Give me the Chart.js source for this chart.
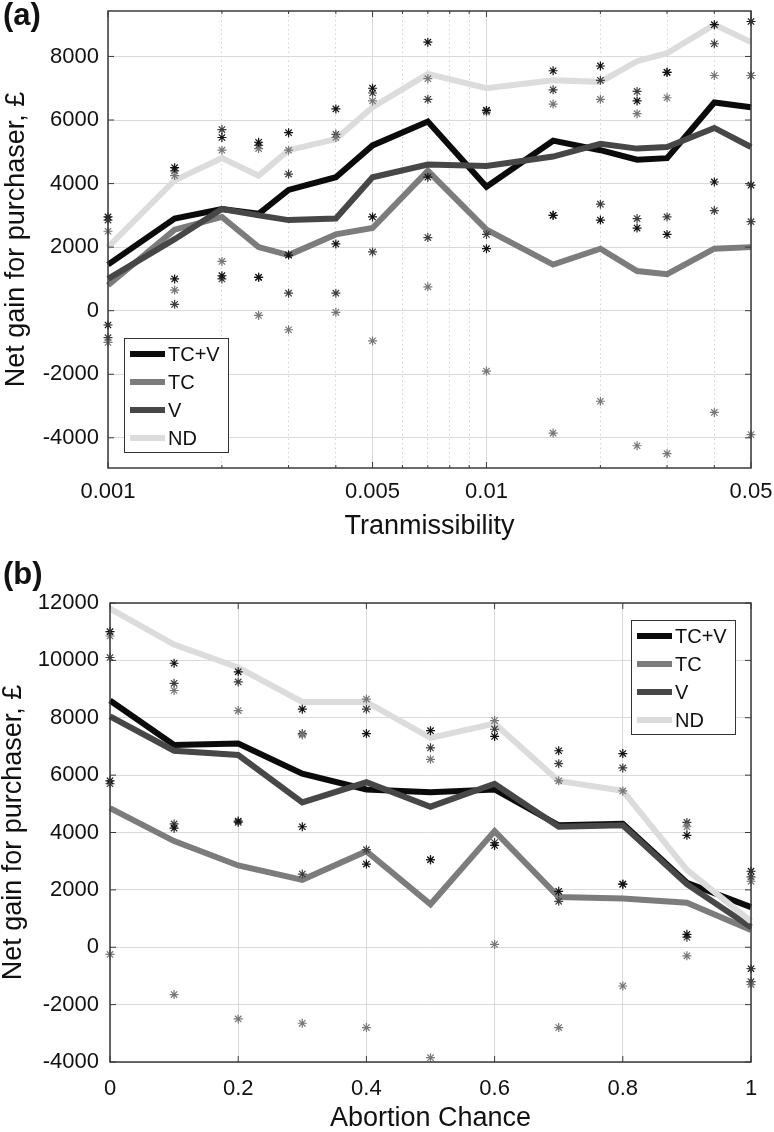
<!DOCTYPE html>
<html lang="en">
<head>
<meta charset="UTF-8">
<title>Net gain for purchaser</title>
<script src="https://cdn.jsdelivr.net/npm/chart.js"></script>
<style>
  body { margin: 0; background: #fff; font-family: "Liberation Sans", Arial, sans-serif; }
  .panel { position: relative; width: 774px; }
  .panel canvas { display: block; }
  .tag { position: absolute; left: 3px; font-weight: bold; font-size: 31px; line-height: 1; color: #111; }
</style>
</head>
<body>
<div class="panel" style="height:560px">
  <canvas id="chartA" width="774" height="560"></canvas>
  <div class="tag" style="top:-1px">(a)</div>
</div>
<div class="panel" style="height:572px">
  <canvas id="chartB" width="774" height="572"></canvas>
  <div class="tag" style="top:-2px">(b)</div>
</div>

<script>
/* ---------- panel (a): transmissibility (log axis) ---------- */
const transX = [0.001, 0.0015, 0.002, 0.0025, 0.003, 0.004, 0.005, 0.007, 0.01, 0.015, 0.02, 0.025, 0.03, 0.04, 0.05];
const aTCV = [1450, 2900, 3200, 3050, 3800, 4200, 5200, 5950, 3900, 5350, 5050, 4750, 4800, 6550, 6400];
const aTC  = [800, 2550, 2950, 2000, 1750, 2400, 2600, 4400, 2550, 1450, 1950, 1250, 1150, 1950, 2000];
const aV   = [1000, 2250, 3200, 3000, 2850, 2900, 4200, 4600, 4550, 4850, 5250, 5100, 5150, 5750, 5150];
const aND  = [2000, 4100, 4800, 4250, 5050, 5400, 6400, 7450, 7000, 7250, 7200, 7850, 8100, 9000, 8450];
// asterisks: upper / lower run for each treatment
const aTCVhi = [2950, 4500, 5450, 5300, 5600, 6350, 7000, 8450, 6300, 7550, 7700, 6600, 7500, 9000, 9100];
const aTCVlo = [-450, 1000, 1100, 1050, 1750, 2100, 2950, 4200, 1950, 3000, 2850, 2600, 2400, 4050, 3950];
const aTChi  = [2500, 4250, 5050, 5100, 5050, 5450, 6600, 7300, 6250, 6500, 6650, 6200, 6700, 7400, 7400];
const aTClo  = [-1000, 650, 1550, -150, -600, -50, -950, 750, -1900, -3850, -2850, -4250, -4500, -3200, -3900];
const aVhi   = [2850, 4400, 5700, 5200, 4300, 5550, 6850, 6650, 6300, 6950, 7250, 6900, 7500, 8400, 7400];
const aVlo   = [-850, 200, 1000, 1050, 550, 550, 1850, 2300, 2400, 3000, 3350, 2900, 2950, 3150, 2800];

const xMajorA = [0.001, 0.005, 0.01, 0.05];
const xMinorA = [0.002, 0.003, 0.004, 0.006, 0.007, 0.008, 0.009, 0.02, 0.03, 0.04];
const yTicksA = [-4000, -2000, 0, 2000, 4000, 6000, 8000];

/* ---------- panel (b): abortion chance ---------- */
const abortX = [0, 0.1, 0.2, 0.3, 0.4, 0.5, 0.6, 0.7, 0.8, 0.9, 1];
const bTCV = [8600, 7050, 7100, 6050, 5500, 5400, 5500, 4250, 4300, 2250, 1400];
const bTC  = [4850, 3700, 2850, 2350, 3350, 1500, 4050, 1750, 1700, 1550, 600];
const bV   = [8050, 6850, 6700, 5050, 5750, 4900, 5700, 4200, 4250, 2200, 700];
const bND  = [11800, 10550, 9750, 8550, 8550, 7300, 7800, 5800, 5450, 2700, 900];
const bTCVhi = [11000, 9900, 9600, 8300, 7450, 7550, 7350, 6850, 6750, 3900, 2650];
const bTCVlo = [5800, 4150, 4400, 4200, 2900, 3050, 3550, 1950, 2200, 450, -750];
const bTChi  = [10850, 8950, 8250, 7400, 8650, 6550, 7900, 5800, 5450, 4200, 2300];
const bTClo  = [-250, -1650, -2500, -2650, -2800, -3850, 100, -2800, -1350, -300, -1300];
const bVhi   = [10100, 9200, 9250, 7450, 8300, 6950, 7600, 6400, 6250, 4350, 2450];
const bVlo   = [5700, 4300, 4350, 2550, 3400, 3050, 3650, 1600, 2200, 350, -1200];

const xTicksB = [0, 0.2, 0.4, 0.6, 0.8, 1];
const yTicksB = [-4000, -2000, 0, 2000, 4000, 6000, 8000, 10000, 12000];

/* ---------- styling ---------- */
Chart.defaults.font.family = "'Liberation Sans', Arial, sans-serif";
const lineColor = { 'TC+V': '#0b0b0b', 'TC': '#7c7c7c', 'V': '#474747', 'ND': '#dcdcdc' };
const starColor = { 'TC+V': '#121212', 'TC': '#777777', 'V': '#3d3d3d' };
const drawOrder = { 'TC+V': 4, 'TC': 3, 'V': 2, 'ND': 1 }; // later series on top, like matlab
const tickFont = { size: 22 };
const titleFont = { size: 27, lineHeight: 1 };
const plainNum = v => String(v); // no thousands separators

function pts(xs, ys) { return xs.map((x, i) => ({ x: x, y: ys[i] })); }

function buildDatasets(xs, lines, stars) {
  const sets = [];
  stars.forEach(s => {
    [s.hi, s.lo].forEach(arr => sets.push({
      label: s.name, data: pts(xs, arr), showLine: false,
      pointStyle: 'star', pointRadius: 4.5, pointBorderWidth: 1.2,
      pointBorderColor: starColor[s.name], pointBackgroundColor: starColor[s.name],
      borderColor: starColor[s.name], order: 0, clip: false
    }));
  });
  lines.forEach(l => sets.push({
    label: l.name, data: pts(xs, l.y), inLegend: true,
    borderColor: lineColor[l.name], backgroundColor: lineColor[l.name],
    borderWidth: 6, pointRadius: 0, tension: 0,
    order: drawOrder[l.name], clip: false
  }));
  return sets;
}

function zeroPad(s) { s.paddingLeft = 0; s.paddingRight = 0; s.paddingTop = 0; s.paddingBottom = 0; }
function fixedTicks(list, majors) {
  return s => { s.ticks = list.map(v => ({ value: v, major: majors ? majors.includes(v) : true })); };
}

// matlab style box with inward ticks on all four sides
const matFrame = {
  id: 'matFrame',
  afterDatasetsDraw(chart) {
    const ctx = chart.ctx, a = chart.chartArea;
    const xs = chart.scales.x, ys = chart.scales.y;
    ctx.save();
    ctx.strokeStyle = '#3a3a3a';
    ctx.lineWidth = 1.5;
    ctx.strokeRect(a.left, a.top, a.right - a.left, a.bottom - a.top);
    ctx.lineWidth = 1;
    ctx.beginPath();
    xs.ticks.forEach(t => {
      const px = xs.getPixelForValue(t.value);
      const len = t.major ? 6 : 3;
      ctx.moveTo(px, a.bottom); ctx.lineTo(px, a.bottom - len);
      ctx.moveTo(px, a.top); ctx.lineTo(px, a.top + len);
    });
    ys.ticks.forEach(t => {
      const py = ys.getPixelForValue(t.value);
      ctx.moveTo(a.left, py); ctx.lineTo(a.left + 6, py);
      ctx.moveTo(a.right, py); ctx.lineTo(a.right - 6, py);
    });
    ctx.stroke();
    ctx.restore();
  }
};

// legend box inside the axes
const boxLegend = {
  id: 'boxLegend',
  afterDraw(chart, args, opts) {
    const ctx = chart.ctx, a = chart.chartArea;
    const w = 104, h = 114;
    const left = opts.corner === 'bl' ? a.left + 16 : a.right - 16 - w;
    const top = opts.corner === 'bl' ? a.bottom - 16 - h : a.top + 17;
    ctx.save();
    ctx.fillStyle = '#fff';
    ctx.fillRect(left, top, w, h);
    ctx.strokeStyle = '#333';
    ctx.lineWidth = 1;
    ctx.strokeRect(left + 0.5, top + 0.5, w, h);
    chart.data.datasets.filter(d => d.inLegend).forEach((d, i) => {
      const y = top + 16 + i * 28;
      ctx.strokeStyle = d.borderColor;
      ctx.lineWidth = 6;
      ctx.beginPath();
      ctx.moveTo(left + 6, y);
      ctx.lineTo(left + 41, y);
      ctx.stroke();
      ctx.fillStyle = '#111';
      ctx.font = "20px 'Liberation Sans', Arial, sans-serif";
      ctx.textBaseline = 'middle';
      ctx.fillText(d.label, left + 44, y + 1);
    });
    ctx.restore();
  }
};

function gridColor(c) { return (c.tick && !c.tick.major) ? '#d2d2d2' : '#dadada'; }
function gridDash(c) { return (c.tick && !c.tick.major) ? [1.5, 3] : []; }

/* ---------- chart (a) ---------- */
new Chart(document.getElementById('chartA'), {
  type: 'line',
  data: {
    datasets: buildDatasets(transX,
      [{ name: 'TC+V', y: aTCV }, { name: 'TC', y: aTC }, { name: 'V', y: aV }, { name: 'ND', y: aND }],
      [{ name: 'TC+V', hi: aTCVhi, lo: aTCVlo }, { name: 'TC', hi: aTChi, lo: aTClo }, { name: 'V', hi: aVhi, lo: aVlo }])
  },
  options: {
    responsive: false, animation: false, events: [],
    layout: { padding: { left: 0, top: 11, right: 23, bottom: 0 } },
    plugins: { legend: { display: false }, tooltip: { enabled: false }, boxLegend: { corner: 'bl' } },
    scales: {
      x: {
        type: 'logarithmic', min: 0.001, max: 0.05,
        afterBuildTicks: fixedTicks(xMajorA.concat(xMinorA).sort((p, q) => p - q), xMajorA),
        afterFit: s => { s.height = 92; zeroPad(s); },
        ticks: { autoSkip: false, maxRotation: 0, padding: 11, color: '#111', font: tickFont,
                 callback: v => xMajorA.includes(v) ? String(v) : '' },
        grid: { drawTicks: false, color: gridColor, lineWidth: 1 },
        border: { display: false, dash: gridDash },
        title: { display: true, text: 'Tranmissibility', color: '#111', font: titleFont, padding: { top: 0, bottom: 20 } }
      },
      y: {
        type: 'linear', min: -4950, max: 9430,
        afterBuildTicks: fixedTicks(yTicksA),
        afterFit: s => { s.width = 108; zeroPad(s); },
        ticks: { padding: 9, color: '#111', font: tickFont, callback: plainNum },
        grid: { drawTicks: false, color: '#dadada', lineWidth: 1 },
        border: { display: false },
        title: { display: true, text: 'Net gain for purchaser, £', color: '#111', font: titleFont, padding: { top: 3, bottom: 0 } }
      }
    }
  },
  plugins: [matFrame, boxLegend]
});

/* ---------- chart (b) ---------- */
new Chart(document.getElementById('chartB'), {
  type: 'line',
  data: {
    datasets: buildDatasets(abortX,
      [{ name: 'TC+V', y: bTCV }, { name: 'TC', y: bTC }, { name: 'V', y: bV }, { name: 'ND', y: bND }],
      [{ name: 'TC+V', hi: bTCVhi, lo: bTCVlo }, { name: 'TC', hi: bTChi, lo: bTClo }, { name: 'V', hi: bVhi, lo: bVlo }])
  },
  options: {
    responsive: false, animation: false, events: [],
    layout: { padding: { left: 0, top: 43, right: 23, bottom: 0 } },
    plugins: { legend: { display: false }, tooltip: { enabled: false }, boxLegend: { corner: 'tr' } },
    scales: {
      x: {
        type: 'linear', min: 0, max: 1,
        afterBuildTicks: fixedTicks(xTicksB),
        afterFit: s => { s.height = 70; zeroPad(s); },
        ticks: { autoSkip: false, maxRotation: 0, padding: 14, color: '#111', font: tickFont, callback: plainNum },
        grid: { drawTicks: false, color: '#dadada', lineWidth: 1 },
        border: { display: false },
        title: { display: true, text: 'Abortion Chance', color: '#111', font: titleFont, padding: { top: 0, bottom: 0 } }
      },
      y: {
        type: 'linear', min: -4000, max: 12000,
        afterBuildTicks: fixedTicks(yTicksB),
        afterFit: s => { s.width = 110; zeroPad(s); },
        ticks: { padding: 11, color: '#111', font: tickFont, callback: plainNum },
        grid: { drawTicks: false, color: '#dadada', lineWidth: 1 },
        border: { display: false },
        title: { display: true, text: 'Net gain for purchaser, £', color: '#111', font: titleFont, padding: { top: 0, bottom: 0 } }
      }
    }
  },
  plugins: [matFrame, boxLegend]
});
</script>
</body>
</html>
